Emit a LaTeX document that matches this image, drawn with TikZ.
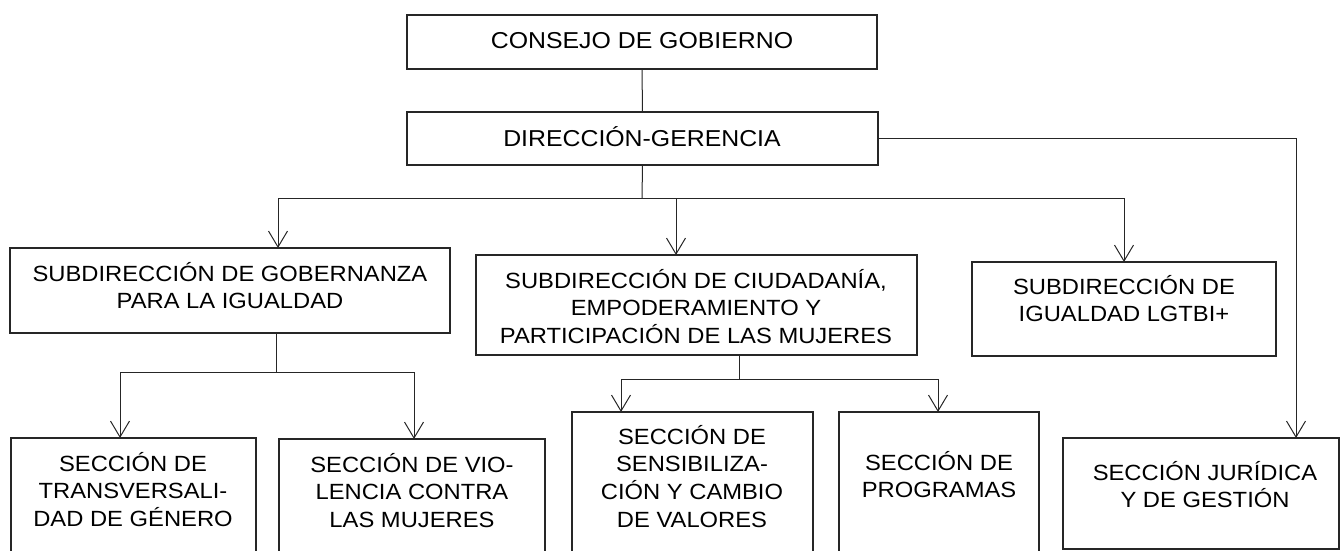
\documentclass[tikz,border=0pt]{standalone}
\usepackage{fontspec}
\setmainfont{Liberation Sans}[FakeStretch=1.08]
\usetikzlibrary{arrows.meta}
\newcommand{\fl}{\rule{0pt}{21pt}}
\begin{document}
\begin{tikzpicture}[x=1pt,y=-1pt,
  box/.style={draw=black!85, line width=1.3pt, inner sep=0pt, outer sep=0pt, anchor=north west, rectangle},
  lbl/.style={anchor=north, inner sep=0pt, align=center, font=\fontsize{22}{27.7}\selectfont},
  toplbl/.style={lbl, font=\fontsize{23}{27.7}\selectfont},
  conn/.style={draw=black!85, line width=1pt},
  arr/.style={conn, -{Straight Barb[length=16pt,width=19pt,line width=1pt]}}]
\useasboundingbox (0,0) rectangle (1341,551);
% boxes
\node[box, minimum width=470pt, minimum height=54pt] (cg) at (407,15) {};
\node[box, minimum width=471pt, minimum height=53pt] (dg) at (407,112) {};
\node[box, minimum width=440pt, minimum height=85pt] (sg) at (10,248) {};
\node[box, minimum width=441pt, minimum height=100pt] (sc) at (476,255) {};
\node[box, minimum width=304pt, minimum height=94pt] (sl) at (972,262) {};
\node[box, minimum width=245pt, minimum height=130pt] (st) at (11,438) {};
\node[box, minimum width=266pt, minimum height=130pt] (sv) at (279,439) {};
\node[box, minimum width=241pt, minimum height=160pt] (ss) at (572,412) {};
\node[box, minimum width=200pt, minimum height=160pt] (sp) at (839,412) {};
\node[box, minimum width=276pt, minimum height=111pt] (sj) at (1063,438) {};
% texts (top = first baseline - 21)
\node[toplbl] (cgt) at (642,27) {\fl CONSEJO DE GOBIERNO};
\node[toplbl] (dgt) at (642,125) {\fl DIRECCIÓN-GERENCIA};
\node[lbl] (sgt) at (230,260) {\fl SUBDIRECCIÓN DE GOBERNANZA\\PARA LA IGUALDAD};
\node[lbl] (sct) at (696,267) {\fl SUBDIRECCIÓN DE CIUDADANÍA,\\EMPODERAMIENTO Y\\PARTICIPACIÓN DE LAS MUJERES};
\node[lbl] (slt) at (1124,273) {\fl SUBDIRECCIÓN DE\\IGUALDAD LGTBI+};
\node[lbl] (stt) at (133,450) {\fl SECCIÓN DE\\TRANSVERSALI-\\DAD DE GÉNERO};
\node[lbl] (svt) at (412,451) {\fl SECCIÓN DE VIO-\\LENCIA CONTRA\\LAS MUJERES};
\node[lbl] (sst) at (692,423) {\fl SECCIÓN DE\\SENSIBILIZA-\\CIÓN Y CAMBIO\\DE VALORES};
\node[lbl] (spt) at (939,449) {\fl SECCIÓN DE\\PROGRAMAS};
\node[lbl] (sjt) at (1205,459) {\fl SECCIÓN JURÍDICA\\Y DE GESTIÓN};
% junction coordinates
\coordinate (j1) at (642,198);
\coordinate (g1) at (276,372);
\coordinate (c1) at (739,379);
% connectors
\draw[conn] (cg.south) -- (dg.north);
\draw[conn] (dg.south) -- (j1);
\draw[arr] (j1) -| ([xshift=48pt]sg.north);
\draw[arr] (j1) -| ([xshift=-20.5pt]sc.north);
\draw[arr] (j1) -| (sl.north);
\draw[arr] (dg.east) -| ([xshift=95pt]sj.north);
\draw[conn] (sg.south -| g1) -- (g1);
\draw[arr] (g1) -| ([xshift=-13.5pt]st.north);
\draw[arr] (g1) -| ([xshift=2pt]sv.north);
\draw[conn] (sc.south -| c1) -- (c1);
\draw[arr] (c1) -| ([xshift=-71.5pt]ss.north);
\draw[arr] (c1) -| ([xshift=-1pt]sp.north);
\end{tikzpicture}
\end{document}
